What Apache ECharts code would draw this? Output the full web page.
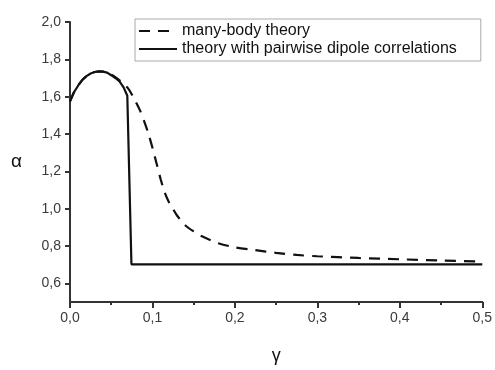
<!DOCTYPE html>
<html>
<head>
<meta charset="utf-8">
<script src="https://cdn.jsdelivr.net/npm/echarts@6/dist/echarts.min.js"></script>
<style>html,body{margin:0;padding:0;background:#fff;}#c{width:495px;height:370px;}</style>
</head>
<body>
<div id="c"></div>
<script>
// gamma values and alpha values
const manyBodyGamma = [0, 0.005, 0.01, 0.015, 0.02, 0.025, 0.03, 0.035, 0.04, 0.045, 0.05, 0.055, 0.06, 0.065, 0.07, 0.075, 0.08, 0.085, 0.09, 0.095, 0.1, 0.105, 0.11, 0.115, 0.12, 0.125, 0.13, 0.14, 0.15, 0.16, 0.18, 0.2, 0.225, 0.25, 0.275, 0.3, 0.35, 0.4, 0.45, 0.5];
const manyBodyAlpha = [1.575, 1.625, 1.66, 1.69, 1.71, 1.724, 1.732, 1.735, 1.734, 1.729, 1.718, 1.704, 1.688, 1.668, 1.647, 1.612, 1.570, 1.525, 1.468, 1.403, 1.326, 1.242, 1.157, 1.085, 1.035, 0.998, 0.962, 0.91, 0.878, 0.852, 0.815, 0.793, 0.778, 0.763, 0.752, 0.745, 0.736, 0.729, 0.722, 0.717];
const pairwiseGamma = [0, 0.005, 0.01, 0.015, 0.02, 0.025, 0.03, 0.035, 0.04, 0.045, 0.05, 0.055, 0.06, 0.065, 0.0695, 0.0745, 0.5];
const pairwiseAlpha = [1.575, 1.625, 1.66, 1.69, 1.71, 1.724, 1.732, 1.735, 1.734, 1.729, 1.715, 1.700, 1.682, 1.650, 1.605, 0.702, 0.702];
const seriesNames = ['many-body theory', 'theory with pairwise dipole correlations'];
const yTickValues = [0.6, 0.8, 1.0, 1.2, 1.4, 1.6, 1.8, 2.0];
const xAxisName = 'γ';
const yAxisName = 'α';

const pairs = (xs, ys) => xs.map((x, i) => [x, ys[i]]);
const fmt = v => Number(v).toFixed(1).replace('.', ',');
const axisColor = '#333';
const labelStyle = {color: '#3a3a3a', fontSize: 14, fontFamily: 'Liberation Sans'};

const chart = echarts.init(document.getElementById('c'), null, {renderer: 'canvas'});
chart.setOption({
  animation: false,
  backgroundColor: '#fff',
  grid: {left: 70, top: 22, width: 414, height: 295, containLabel: false},
  legend: {
    orient: 'vertical',
    left: 135, top: 19,
    padding: [4, 24, 4, 3],
    itemGap: 2,
    itemWidth: 38, itemHeight: 16,
    borderColor: '#aaa', borderWidth: 1,
    itemStyle: {opacity: 0},
    textStyle: {color: '#111', fontSize: 16, fontFamily: 'Liberation Sans'},
    data: seriesNames
  },
  xAxis: {
    type: 'value', min: 0, max: 0.5, interval: 0.1,
    name: xAxisName, nameLocation: 'middle', nameGap: 45,
    nameTextStyle: {fontSize: 18, color: '#111', fontFamily: 'Liberation Sans'},
    axisLine: {show: true, lineStyle: {color: axisColor, width: 2}},
    axisTick: {show: true, length: 6, lineStyle: {color: axisColor, width: 2}},
    minorTick: {show: true, splitNumber: 2, length: 3, lineStyle: {color: axisColor, width: 2}},
    axisLabel: Object.assign({margin: 9, formatter: fmt}, labelStyle),
    splitLine: {show: false}
  },
  yAxis: {
    type: 'value', min: 0.5, max: 2.0,
    name: yAxisName, nameLocation: 'middle', nameGap: 48, nameRotate: 0,
    nameTextStyle: {fontSize: 19, color: '#111', fontFamily: 'Liberation Sans'},
    axisLine: {show: true, lineStyle: {color: axisColor, width: 2}},
    axisTick: {show: true, length: 5, customValues: yTickValues, lineStyle: {color: axisColor, width: 2}},
    axisLabel: Object.assign({margin: 9, customValues: yTickValues, formatter: fmt}, labelStyle),
    splitLine: {show: false}
  },
  series: [
    {
      name: seriesNames[0], type: 'line', smooth: 0.3, symbol: 'none',
      data: pairs(manyBodyGamma, manyBodyAlpha),
      lineStyle: {color: '#111', width: 2.2, type: [11, 8]},
      itemStyle: {color: '#111'},
      z: 2
    },
    {
      name: seriesNames[1], type: 'line', smooth: false, symbol: 'none',
      data: pairs(pairwiseGamma, pairwiseAlpha),
      lineStyle: {color: '#111', width: 2.2, type: 'solid'},
      itemStyle: {color: '#111'},
      z: 3
    }
  ]
});
</script>
</body>
</html>
